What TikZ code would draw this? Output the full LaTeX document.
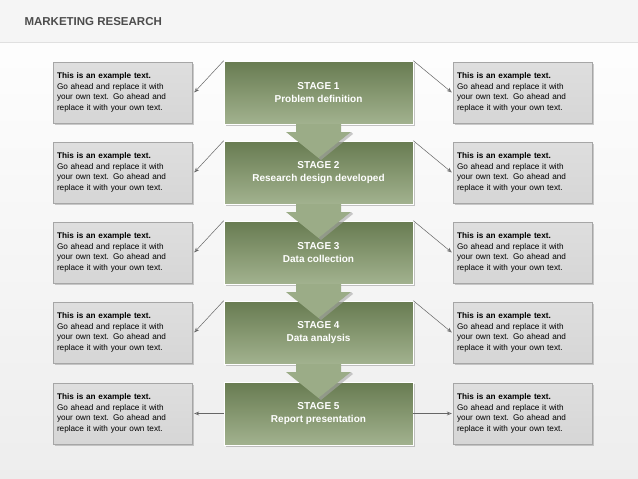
\documentclass[tikz,border=0pt]{standalone}
\usepackage{fontspec}
\setmainfont{Liberation Sans}
\usetikzlibrary{positioning,shadows,arrows.meta}
\definecolor{stagegreen}{RGB}{122,145,95}
\definecolor{notegray}{RGB}{214,214,214}
\tikzset{
  stagebox/.style={draw=white,line width=0.6pt,top color=stagegreen!85!black,bottom color=stagegreen!70!white,
    minimum width=189pt,minimum height=63pt,align=center,text=white,font=\bfseries\fontsize{10}{12.5}\selectfont,
    drop shadow={shadow xshift=2pt,shadow yshift=-2pt,fill=black!45}},
  notebox/.style={draw=black!35,line width=0.4pt,top color=notegray!80!white,bottom color=notegray,
    minimum width=139pt,minimum height=61pt,align=left,text width=131pt,font=\fontsize{8.2}{10.6}\selectfont,
    drop shadow={shadow xshift=2pt,shadow yshift=-2pt,fill=black!40}},
  link/.style={draw=black!60,line width=0.5pt,-{Stealth[open,length=5pt,width=4pt]}},
  downarrow/.style={fill=stagegreen!75!white,draw=none}
}
\newcommand{\notetext}{\textbf{This is an example text.}\\Go ahead and replace it with\\your own text. Go ahead and\\replace it with your own text.}
\begin{document}
\begin{tikzpicture}[x=1pt,y=-1pt]
\useasboundingbox (0,0) rectangle (638,479);
\shade[top color=white,bottom color=black!7] (0,0) rectangle (638,479);
% header
\fill[black!4] (0,0) rectangle (638,42);
\draw[black!12] (0,42) -- (638,42);
\node[anchor=west,text=black!70,font=\bfseries\fontsize{11.5}{13}\selectfont] (title) at (21,22) {MARKETING RESEARCH};
% stages
\foreach \i/\txt [count=\n] in {0/Problem definition,80/Research design developed,160/Data collection,240/Data analysis,321/Report presentation}{
  \node[stagebox] (stage\n) at (318.5,92.5+\i) {STAGE \n\\\txt};
  \node[notebox] (left\n) at (122.5,92.5+\i) {\notetext};
  \node[notebox] (right\n) at (522.5,92.5+\i) {\notetext};
}
% down arrows between stages
\foreach \y in {124,204,284,364}{
  \fill[downarrow] (296,\y) -- (296,\y+8) -- (286,\y+8) -- (318.5,\y+34) -- (351,\y+8) -- (341,\y+8) -- (341,\y) -- cycle;
  \fill[black!35,opacity=0.6] (351,\y+8) -- (318.5,\y+34) -- (321,\y+36) -- (353,\y+10) -- cycle;
}
\foreach \n in {1,...,4}{
  \draw[link] (stage\n.north west) -- ([xshift=2pt]left\n.east);
  \draw[link] (stage\n.north east) -- ([xshift=-1pt]right\n.west);
}
\draw[link] (stage5.west) -- ([xshift=2pt]left5.east);
\draw[link] (stage5.east) -- ([xshift=-1pt]right5.west);
\end{tikzpicture}
\end{document}
